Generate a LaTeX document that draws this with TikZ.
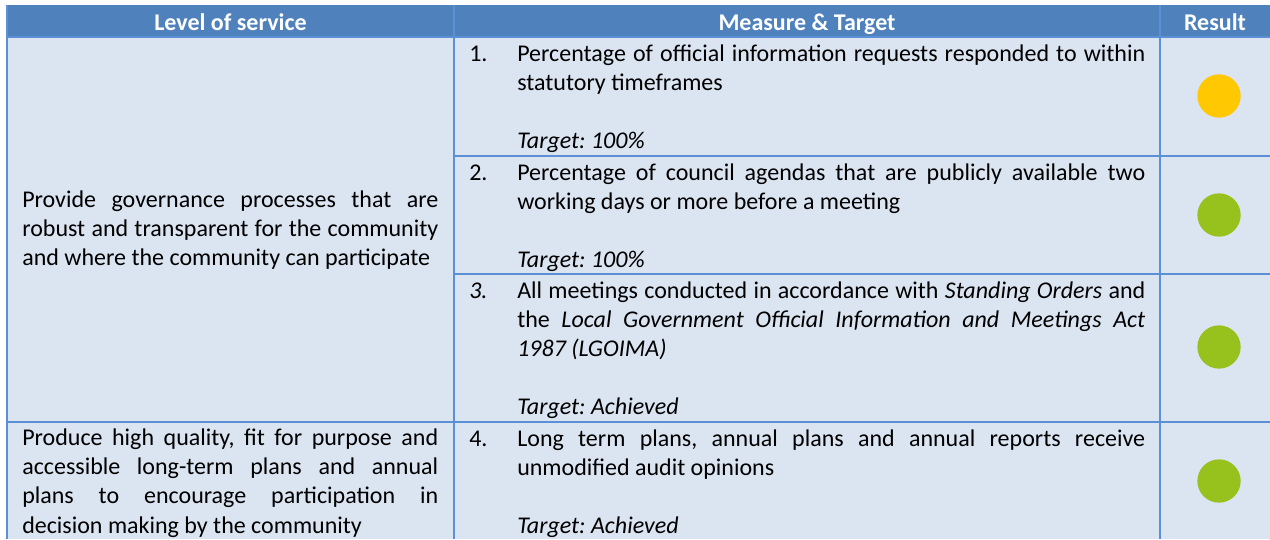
\documentclass[tikz,border=0pt]{standalone}
\usepackage{fontspec}
\setmainfont{Carlito}
\usepackage{tikz}
\frenchspacing

\definecolor{headblue}{HTML}{4F81BD}
\definecolor{cellblue}{HTML}{DBE5F1}
\definecolor{ruleblue}{HTML}{5B8FD6}
\definecolor{resyellow}{HTML}{FFC800}
\definecolor{resgreen}{HTML}{97C11D}

\begin{document}
\begin{tikzpicture}[x=0.75pt,y=-0.75pt,
		cell/.style={inner sep=0pt,anchor=base west,font=\fontsize{18}{22}\selectfont},
		lvl/.style={cell,text width=312pt,align=justify},
		meas/.style={cell,text width=471pt,align=justify},
		head/.style={inner sep=0pt,anchor=base,text=white,font=\fontsize{18}{22}\selectfont\bfseries},
		dot/.style={circle,inner sep=0pt,minimum size=32.5pt}]
	\useasboundingbox (0,0) rectangle (1270,539);
	\fill[white] (0,0) rectangle (1270,539);
	\fill[headblue] (7,5) rectangle (1270,37); % header row
	\fill[cellblue] (7,37) rectangle (1270,539); % body
	% grid
	\draw[ruleblue,line width=1.5pt] (7,5) -- (7,539) (454,5) -- (454,539) (1160,5) -- (1160,539);
	\draw[ruleblue,line width=1.5pt] (7,37) -- (1270,37) (454,156) -- (1270,156) (454,274) -- (1270,274) (7,422) -- (1270,422);
	% header
	\node[head] (hlvl) at (230.5,30) {Level of service};
	\node[head] (hmeas) at (807,30) {Measure \& Target};
	\node[head] (hres) at (1215,30) {Result};
	% level of service
	\node[lvl] (lvla) at (22,207) {Provide governance processes that are\linebreak robust and transparent for the community\linebreak and where the community can participate};
	\node[lvl] (lvlb) at (22,445) {Produce high quality, fit for purpose and\linebreak accessible long-term plans and annual\linebreak plans to encourage participation in\linebreak decision making by the community};
	% measures
	\node[cell] (na) at (469,61) {1.};
	\node[meas] (ma) at (517,61) {Percentage of official information requests responded to within\linebreak statutory timeframes};
	\node[cell] (ta) at (517,148) {\itshape Target: 100\%};
	\node[cell] (nb) at (469,180) {2.};
	\node[meas] (mb) at (517,180) {Percentage of council agendas that are publicly available two\linebreak working days or more before a meeting};
	\node[cell] (tb) at (517,267) {\itshape Target: 100\%};
	\node[cell] (nc) at (469,298) {\itshape 3.};
	\node[meas] (mc) at (517,298) {All meetings conducted in accordance with \textit{Standing Orders} and\linebreak the \textit{Local Government Official Information and Meetings Act}\linebreak \textit{1987 (LGOIMA)}};
	\node[cell] (tc) at (517,414) {\itshape Target: Achieved};
	\node[cell] (nd) at (469,446) {4.};
	\node[meas] (md) at (517,446) {Long term plans, annual plans and annual reports receive\linebreak unmodified audit opinions};
	\node[cell] (td) at (517,533) {\itshape Target: Achieved};
	% results
	\node[dot,fill=resyellow] (ra) at (1219,96) {};
	\node[dot,fill=resgreen] (rb) at (1219,215) {};
	\node[dot,fill=resgreen] (rc) at (1219,347) {};
	\node[dot,fill=resgreen] (rd) at (1219,481) {};
\end{tikzpicture}
\end{document}
